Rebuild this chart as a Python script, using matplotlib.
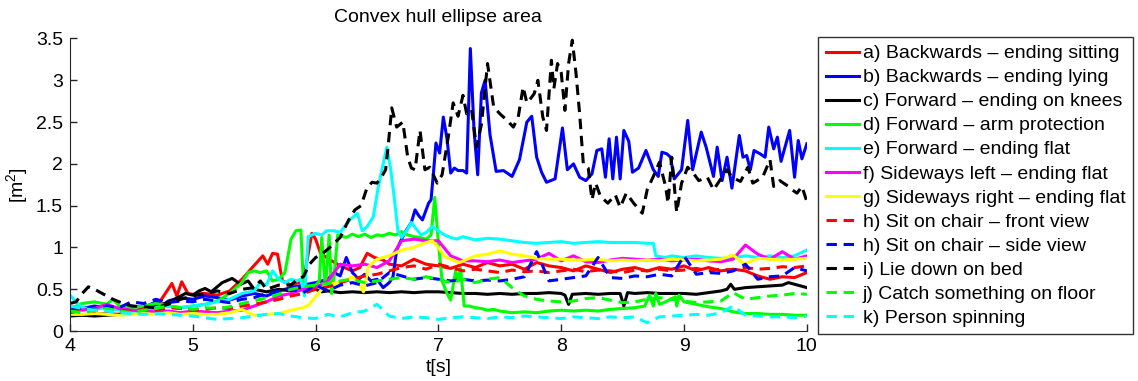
import numpy as np
import matplotlib
matplotlib.use('Agg')
import matplotlib.pyplot as plt

plt.rcParams['font.family'] = ['Liberation Sans', 'DejaVu Sans']
plt.rcParams['mathtext.fontset'] = 'custom'
plt.rcParams['mathtext.rm'] = 'Liberation Sans'
plt.rcParams['mathtext.default'] = 'regular'

# time grid (s) used by the smoother series
t_base = np.round(np.arange(4.0, 10.001, 0.1), 2)

labels = ['a) Backwards \u2013 ending sitting',
          'b) Backwards \u2013 ending lying',
          'c) Forward \u2013 ending on knees',
          'd) Forward \u2013 arm protection',
          'e) Forward \u2013 ending flat',
          'f) Sideways left \u2013 ending flat',
          'g) Sideways right \u2013 ending flat',
          'h) Sit on chair \u2013 front view',
          'h) Sit on chair \u2013 side view',
          'i) Lie down on bed',
          'j) Catch something on floor',
          'k) Person spinning']

# a) red solid
t_a = [4.0, 4.1, 4.2, 4.3, 4.4, 4.5, 4.6, 4.7, 4.83, 4.87, 4.91, 4.96, 5.0, 5.1, 5.2, 5.3, 5.4,
       5.49, 5.57, 5.61, 5.65, 5.69, 5.73, 5.8, 5.9, 5.97, 6.0, 6.04, 6.12, 6.2, 6.3, 6.36, 6.42,
       6.48, 6.55, 6.6, 6.7, 6.8, 6.9, 7.0, 7.1, 7.2, 7.3, 7.4, 7.5, 7.6, 7.7, 7.8, 7.9, 8.0, 8.1,
       8.2, 8.3, 8.4, 8.5, 8.6, 8.7, 8.8, 8.9, 9.0, 9.1, 9.2, 9.3, 9.4, 9.5, 9.6, 9.7, 9.8, 9.9, 10.0]
y_a = [0.20, 0.19, 0.20, 0.21, 0.20, 0.22, 0.24, 0.28, 0.57, 0.42, 0.59, 0.45, 0.44, 0.45, 0.43, 0.48, 0.62,
       0.77, 0.90, 0.80, 0.93, 0.92, 0.60, 0.55, 0.60, 1.17, 1.10, 0.93, 0.85, 0.78, 0.72, 0.76, 0.93,
       0.88, 0.85, 0.80, 0.78, 0.86, 0.80, 0.78, 0.75, 0.80, 0.76, 0.82, 0.78, 0.80, 0.74, 0.82, 0.78, 0.76, 0.72,
       0.78, 0.74, 0.70, 0.74, 0.76, 0.72, 0.76, 0.74, 0.78, 0.72, 0.76, 0.72, 0.74, 0.72, 0.66, 0.62, 0.65, 0.64, 0.70]

# b) blue solid
t_b = [4.0, 4.1, 4.2, 4.3, 4.4, 4.5, 4.6, 4.7, 4.75, 4.8, 4.9, 5.0, 5.1, 5.2, 5.3, 5.4, 5.5, 5.6, 5.7,
       5.8, 5.9, 6.0, 6.1, 6.15, 6.2, 6.25, 6.3, 6.35, 6.4, 6.45, 6.5, 6.55, 6.6, 6.63, 6.66, 6.7, 6.74,
       6.78, 6.81, 6.84, 6.87, 6.9, 6.92, 6.94, 6.96, 6.98, 7.01, 7.04, 7.07, 7.1, 7.13, 7.16, 7.2, 7.23,
       7.26, 7.29, 7.32, 7.35, 7.38, 7.42, 7.47, 7.53, 7.6, 7.66, 7.72, 7.76, 7.8, 7.84, 7.88, 7.95, 8.01,
       8.05, 8.1, 8.15, 8.2, 8.25, 8.29, 8.33, 8.36, 8.39, 8.42, 8.45, 8.48, 8.51, 8.55, 8.58, 8.63, 8.69,
       8.75, 8.79, 8.82, 8.86, 8.89, 8.92, 8.98, 9.03, 9.07, 9.14, 9.18, 9.24, 9.27, 9.31, 9.35, 9.39,
       9.45, 9.48, 9.51, 9.54, 9.57, 9.62, 9.66, 9.69, 9.73, 9.76, 9.79, 9.86, 9.9, 9.93, 9.96, 10.0]
y_b = [0.25, 0.27, 0.30, 0.28, 0.26, 0.30, 0.28, 0.35, 0.30, 0.36, 0.40, 0.38, 0.42, 0.40, 0.37, 0.42, 0.45, 0.42, 0.48,
       0.52, 0.55, 0.58, 0.62, 0.70, 0.66, 0.88, 0.70, 0.62, 0.68, 0.60, 0.62, 0.52, 0.58, 0.65, 0.97, 1.10, 1.21,
       1.30, 1.45, 1.38, 1.33, 1.45, 1.53, 1.57, 1.90, 2.25, 2.13, 2.56, 2.30, 1.89, 1.95, 1.92, 1.92, 1.89,
       3.38, 2.40, 1.87, 2.85, 3.00, 2.35, 1.91, 1.92, 1.85, 2.05, 2.50, 2.57, 2.08, 1.90, 1.78, 1.82, 2.43,
       1.93, 2.00, 1.84, 1.80, 1.88, 2.16, 2.18, 1.84, 2.30, 1.82, 2.32, 1.82, 2.40, 2.27, 1.90, 1.95, 2.16,
       1.93, 1.85, 2.14, 2.12, 2.08, 1.82, 1.93, 2.52, 1.93, 2.38, 2.20, 1.85, 2.20, 1.80, 2.08, 1.71,
       2.34, 2.08, 2.10, 1.93, 2.16, 2.12, 2.08, 2.44, 2.18, 2.32, 2.03, 2.40, 1.84, 2.28, 2.06, 2.24]

# c) black solid
t_c = [4.0, 4.1, 4.2, 4.3, 4.4, 4.5, 4.6, 4.7, 4.77, 4.85, 4.94, 5.0, 5.05, 5.1, 5.15, 5.24, 5.32, 5.39,
       5.45, 5.5, 5.6, 5.7, 5.8, 5.9, 6.0, 6.05, 6.1, 6.2, 6.3, 6.4, 6.5, 6.6, 6.7, 6.8, 6.9, 7.0, 7.1,
       7.2, 7.3, 7.4, 7.5, 7.6, 7.7, 7.8, 7.9, 8.0, 8.03, 8.06, 8.09, 8.2, 8.3, 8.4, 8.48, 8.51, 8.54,
       8.6, 8.7, 8.8, 8.9, 9.0, 9.1, 9.2, 9.3, 9.35, 9.38, 9.41, 9.5, 9.6, 9.7, 9.8, 9.85, 9.9, 10.0]
y_c = [0.18, 0.19, 0.18, 0.19, 0.20, 0.21, 0.25, 0.30, 0.33, 0.38, 0.45, 0.43, 0.48, 0.51, 0.47, 0.58, 0.63, 0.56,
       0.60, 0.50, 0.47, 0.50, 0.48, 0.52, 0.50, 0.47, 0.48, 0.46, 0.47, 0.46, 0.47, 0.46, 0.47, 0.46, 0.47, 0.47, 0.46,
       0.45, 0.45, 0.44, 0.45, 0.44, 0.45, 0.45, 0.46, 0.45, 0.43, 0.32, 0.44, 0.45, 0.44, 0.45, 0.45, 0.30, 0.46,
       0.45, 0.46, 0.45, 0.45, 0.45, 0.44, 0.46, 0.48, 0.50, 0.56, 0.50, 0.52, 0.53, 0.54, 0.55, 0.58, 0.56, 0.52]

# d) green solid
t_d = [4.0, 4.1, 4.2, 4.3, 4.35, 4.4, 4.5, 4.6, 4.7, 4.8, 4.9, 5.0, 5.1, 5.2, 5.3, 5.4, 5.45, 5.5, 5.55,
       5.6, 5.65, 5.7, 5.75, 5.8, 5.84, 5.88, 5.9, 5.95, 6.0, 6.03, 6.05, 6.08, 6.11, 6.13, 6.15, 6.18,
       6.25, 6.3, 6.35, 6.4, 6.45, 6.5, 6.55, 6.6, 6.65, 6.7, 6.75, 6.8, 6.85, 6.9, 6.94, 6.97, 7.0,
       7.03, 7.07, 7.1, 7.14, 7.16, 7.18, 7.21, 7.25, 7.3, 7.35, 7.4, 7.45, 7.5, 7.6, 7.7, 7.8, 7.9,
       8.0, 8.1, 8.2, 8.3, 8.4, 8.5, 8.6, 8.68, 8.72, 8.75, 8.77, 8.8, 8.85, 8.93, 8.94, 8.96, 9.0,
       9.1, 9.2, 9.3, 9.4, 9.5, 9.6, 9.7, 9.8, 9.9, 10.0]
y_d = [0.27, 0.33, 0.35, 0.32, 0.38, 0.30, 0.28, 0.30, 0.33, 0.30, 0.28, 0.30, 0.32, 0.36, 0.45, 0.58, 0.70, 0.72, 0.70,
       0.72, 0.60, 0.62, 0.70, 1.10, 1.20, 1.21, 0.58, 0.50, 0.55, 0.60, 1.12, 0.50, 1.15, 0.45, 0.65, 1.15,
       1.12, 1.16, 1.13, 1.16, 1.12, 1.15, 1.14, 1.17, 1.15, 1.19, 1.15, 1.13, 1.12, 1.10, 1.15, 1.60, 1.05,
       0.60, 0.45, 0.37, 0.72, 0.60, 0.75, 0.30, 0.30, 0.28, 0.27, 0.25, 0.26, 0.24, 0.22, 0.23, 0.22, 0.24,
       0.25, 0.24, 0.25, 0.24, 0.26, 0.27, 0.28, 0.30, 0.43, 0.30, 0.45, 0.32, 0.35, 0.41, 0.30, 0.43, 0.35,
       0.32, 0.29, 0.27, 0.23, 0.21, 0.21, 0.20, 0.20, 0.19, 0.19]

# e) cyan solid
t_e = [4.0, 4.05, 4.1, 4.2, 4.3, 4.4, 4.5, 4.6, 4.7, 4.8, 4.9, 5.0, 5.1, 5.2, 5.3, 5.4, 5.5, 5.55, 5.6,
       5.65, 5.7, 5.75, 5.8, 5.85, 5.88, 5.91, 5.94, 6.0, 6.05, 6.09, 6.15, 6.2, 6.25, 6.28, 6.34, 6.38,
       6.42, 6.47, 6.51, 6.55, 6.58, 6.61, 6.64, 6.67, 6.7, 6.74, 6.78, 6.82, 6.86, 6.9, 6.95, 7.0, 7.05,
       7.1, 7.15, 7.2, 7.3, 7.4, 7.5, 7.6, 7.7, 7.8, 7.9, 8.0, 8.1, 8.2, 8.3, 8.4, 8.5, 8.6, 8.7, 8.75,
       8.77, 8.85, 8.9, 9.0, 9.1, 9.2, 9.3, 9.4, 9.5, 9.6, 9.7, 9.8, 9.9, 10.0]
y_e = [0.43, 0.35, 0.28, 0.26, 0.28, 0.25, 0.22, 0.26, 0.28, 0.30, 0.28, 0.30, 0.32, 0.35, 0.38, 0.45, 0.48, 0.58, 0.55,
       0.72, 0.62, 0.58, 0.62, 0.60, 0.62, 0.42, 1.13, 1.17, 1.15, 1.20, 1.20, 1.18, 1.28, 1.33, 1.41, 1.20,
       1.25, 1.37, 1.72, 2.00, 2.20, 1.95, 1.60, 1.20, 1.12, 1.20, 1.30, 1.22, 1.15, 1.18, 1.25, 1.20, 1.15,
       1.12, 1.10, 1.13, 1.09, 1.11, 1.10, 1.08, 1.06, 1.05, 1.06, 1.07, 1.05, 1.06, 1.07, 1.06, 1.06, 1.06, 1.05, 1.05,
       0.90, 0.88, 0.90, 0.88, 0.90, 0.88, 0.87, 0.88, 0.90, 0.88, 0.90, 0.88, 0.90, 0.97]

# f) magenta solid
y_f = [0.28, 0.25, 0.27, 0.32, 0.27, 0.25, 0.24, 0.23, 0.24, 0.22, 0.24, 0.23, 0.22, 0.24, 0.25, 0.30,
       0.35, 0.42, 0.45, 0.50, 0.52, 0.60, 0.80, 0.78, 0.80, 0.76, 0.84, 1.08, 1.10, 1.08, 1.08, 0.90,
       0.84, 0.84, 0.83, 0.85, 0.82, 0.84, 0.86, 0.93, 0.84, 0.90, 0.83, 0.82, 0.85, 0.87, 0.86, 0.85,
       0.86, 0.84, 0.85, 0.86, 0.84, 0.83, 0.86, 1.03, 0.92, 0.86, 0.95, 0.86, 0.90]

# g) yellow solid
t_g = [4.0, 4.1, 4.2, 4.3, 4.4, 4.5, 4.6, 4.7, 4.8, 4.9, 5.0, 5.1, 5.2, 5.3, 5.4, 5.45, 5.5, 5.6, 5.7,
       5.8, 5.9, 5.95, 6.0, 6.05, 6.1, 6.2, 6.3, 6.35, 6.39, 6.43, 6.5, 6.6, 6.7, 6.8, 6.88, 6.95, 7.0,
       7.05, 7.1, 7.17, 7.3, 7.4, 7.5, 7.6, 7.7, 7.8, 7.9, 8.0, 8.1, 8.2, 8.3, 8.4, 8.5, 8.6, 8.7, 8.8,
       8.9, 9.0, 9.1, 9.2, 9.3, 9.4, 9.49, 9.6, 9.7, 9.8, 9.9, 10.0]
y_g = [0.20, 0.20, 0.21, 0.20, 0.19, 0.20, 0.21, 0.20, 0.22, 0.20, 0.21, 0.20, 0.20, 0.22, 0.26, 0.22, 0.19, 0.20, 0.21,
       0.25, 0.28, 0.32, 0.41, 0.50, 0.56, 0.58, 0.65, 0.58, 0.47, 0.77, 0.86, 0.90, 0.97, 1.00, 1.05, 1.08, 1.00,
       0.89, 0.86, 0.82, 0.90, 0.92, 0.96, 0.92, 0.90, 0.87, 0.86, 0.86, 0.85, 0.85, 0.86, 0.84, 0.85, 0.84, 0.85, 0.84,
       0.86, 0.85, 0.84, 0.85, 0.86, 0.91, 0.80, 0.87, 0.86, 0.85, 0.86, 0.87]

# h) red dashed
y_h1 = [0.22, 0.25, 0.24, 0.27, 0.25, 0.24, 0.26, 0.25, 0.28, 0.27, 0.25, 0.26, 0.28, 0.27, 0.30, 0.32,
        0.35, 0.38, 0.42, 0.45, 0.50, 0.53, 0.58, 0.62, 0.66, 0.68, 0.72, 0.76, 0.78, 0.74, 0.80, 0.76,
        0.72, 0.74, 0.72, 0.70, 0.73, 0.71, 0.72, 0.70, 0.72, 0.74, 0.71, 0.73, 0.72, 0.70, 0.73, 0.72,
        0.74, 0.72, 0.73, 0.75, 0.72, 0.74, 0.73, 0.76, 0.74, 0.75, 0.77, 0.76, 0.78]

# h) blue dashed
y_h2 = [0.25, 0.28, 0.26, 0.30, 0.28, 0.35, 0.33, 0.38, 0.34, 0.36, 0.35, 0.38, 0.36, 0.34, 0.38, 0.40,
        0.45, 0.48, 0.50, 0.46, 0.55, 0.48, 0.55, 0.58, 0.54, 0.58, 0.70, 0.66, 0.62, 0.64, 0.62, 0.60,
        0.62, 0.60, 0.61, 0.60, 0.62, 0.65, 0.95, 0.60, 0.62, 0.64, 0.66, 0.88, 0.64, 0.63, 0.66, 0.65,
        0.68, 0.66, 0.90, 0.68, 0.70, 0.69, 0.72, 0.80, 0.62, 0.65, 0.66, 0.76, 0.72]

# i) black dashed
t_i = [4.0, 4.05, 4.1, 4.15, 4.2, 4.25, 4.3, 4.35, 4.4, 4.5, 4.6, 4.7, 4.8, 4.9, 5.0, 5.1, 5.2, 5.3, 5.4,
       5.5, 5.55, 5.6, 5.7, 5.8, 5.85, 5.9, 5.95, 6.0, 6.05, 6.1, 6.15, 6.2, 6.27, 6.32, 6.37, 6.42, 6.46,
       6.5, 6.54, 6.57, 6.59, 6.62, 6.66, 6.71, 6.75, 6.78, 6.81, 6.85, 6.89, 6.93, 6.99, 7.03, 7.08, 7.12,
       7.16, 7.2, 7.23, 7.27, 7.31, 7.35, 7.4, 7.45, 7.5, 7.56, 7.61, 7.65, 7.69, 7.72, 7.75, 7.78, 7.81,
       7.85, 7.88, 7.92, 7.94, 7.97, 8.0, 8.03, 8.06, 8.09, 8.12, 8.15, 8.18, 8.22, 8.25, 8.28, 8.32, 8.38,
       8.44, 8.48, 8.53, 8.59, 8.66, 8.7, 8.75, 8.8, 8.85, 8.87, 8.9, 8.94, 8.98, 9.03, 9.08, 9.12, 9.19,
       9.24, 9.29, 9.35, 9.39, 9.46, 9.52, 9.56, 9.64, 9.7, 9.73, 9.78, 9.85, 9.88, 9.92, 9.96, 10.0]
y_i = [0.33, 0.35, 0.45, 0.53, 0.50, 0.46, 0.42, 0.38, 0.35, 0.30, 0.29, 0.28, 0.32, 0.38, 0.42, 0.45, 0.48, 0.45, 0.50,
       0.52, 0.60, 0.50, 0.55, 0.55, 0.62, 0.65, 0.80, 0.88, 0.92, 0.98, 1.05, 1.12, 1.33, 1.45, 1.50, 1.72, 1.78,
       1.77, 1.85, 1.93, 2.20, 2.67, 2.44, 2.50, 2.08, 1.95, 1.93, 2.40, 1.93, 1.96, 1.77, 1.87, 2.32, 2.73,
       2.57, 2.82, 2.60, 2.65, 2.20, 2.47, 3.20, 2.68, 2.60, 2.52, 2.44, 2.56, 2.92, 2.73, 2.78, 2.84, 3.00,
       2.56, 2.40, 3.24, 2.90, 3.20, 3.09, 2.64, 3.20, 3.48, 3.09, 2.60, 2.00, 1.95, 1.57, 1.77, 1.61, 1.53,
       1.63, 1.48, 1.65, 1.53, 1.41, 1.69, 1.85, 2.02, 1.73, 1.53, 2.08, 1.42, 1.77, 1.96, 1.88, 1.80, 1.84,
       1.69, 1.80, 1.93, 1.84, 1.79, 1.96, 1.77, 1.84, 2.05, 1.73, 1.80, 1.73, 1.69, 1.65, 1.73, 1.55]

# j) green dashed
y_j = [0.24, 0.22, 0.25, 0.27, 0.24, 0.22, 0.25, 0.27, 0.30, 0.28, 0.26, 0.28, 0.27, 0.29, 0.33, 0.36,
       0.40, 0.44, 0.50, 0.53, 0.55, 0.57, 0.60, 0.62, 0.58, 0.60, 0.62, 0.64, 0.62, 0.65, 0.62, 0.58,
       0.62, 0.58, 0.62, 0.64, 0.52, 0.42, 0.38, 0.36, 0.35, 0.36, 0.39, 0.40, 0.37, 0.34, 0.35, 0.38,
       0.40, 0.38, 0.36, 0.34, 0.35, 0.36, 0.46, 0.38, 0.40, 0.42, 0.43, 0.45, 0.44]

# k) cyan dashed
y_k = [0.30, 0.27, 0.25, 0.24, 0.22, 0.21, 0.20, 0.21, 0.20, 0.19, 0.18, 0.16, 0.14, 0.15, 0.16, 0.18,
       0.20, 0.21, 0.18, 0.16, 0.15, 0.20, 0.17, 0.22, 0.24, 0.32, 0.18, 0.15, 0.17, 0.16, 0.14, 0.16,
       0.17, 0.16, 0.15, 0.17, 0.16, 0.18, 0.17, 0.16, 0.15, 0.17, 0.16, 0.15, 0.17, 0.16, 0.17, 0.10,
       0.17, 0.18, 0.19, 0.20, 0.19, 0.22, 0.30, 0.19, 0.18, 0.17, 0.17, 0.16, 0.18]

series = [(t_a, y_a, '#ff0000', '-'), (t_b, y_b, '#0000ff', '-'), (t_c, y_c, '#000000', '-'),
          (t_d, y_d, '#00ff00', '-'), (t_e, y_e, '#00ffff', '-'), (t_base, y_f, '#ff00ff', '-'),
          (t_g, y_g, '#ffff00', '-'), (t_base, y_h1, '#ff0000', '--'), (t_base, y_h2, '#0000ff', '--'),
          (t_i, y_i, '#000000', '--'), (t_base, y_j, '#00ff00', '--'), (t_base, y_k, '#00ffff', '--')]

fig = plt.figure(figsize=(11.38, 3.81), dpi=100)
ax = fig.add_axes([0.0615, 0.131, 0.6475, 0.768])
for (tt, yy, col, ls), lab in zip(series, labels):
    ln, = ax.plot(tt, yy, color=col, linestyle=ls, linewidth=2.2, label=lab)
    if ls == '--':
        ln.set_dashes((3.4, 2.2))

ax.set_xlim(4, 10)
ax.set_ylim(0, 3.5)
ax.set_xticks([4, 5, 6, 7, 8, 9, 10])
ax.set_yticks([0, 0.5, 1, 1.5, 2, 2.5, 3, 3.5])
ax.set_yticklabels(['0', '0.5', '1', '1.5', '2', '2.5', '3', '3.5'])
ax.spines['top'].set_visible(False)
ax.spines['right'].set_visible(False)
for s in ['left', 'bottom']:
    ax.spines[s].set_color('#262626')
ax.tick_params(direction='in', length=5, width=1, labelsize=14, colors='#262626', pad=5)
ax.tick_params(axis='both', labelcolor='black')
ax.set_title('Convex hull ellipse area', fontsize=14, pad=12)
ax.set_xlabel('t[s]', fontsize=14, labelpad=3)
ax.set_ylabel('[m$^2$]', fontsize=14, labelpad=4)

leg = fig.legend(loc='upper left', bbox_to_anchor=(818 / 1138, 1 - 37 / 381), fontsize=14,
                 frameon=True, fancybox=False, edgecolor='black', handlelength=1.7,
                 handletextpad=0.2, labelspacing=0.33, borderpad=0.4, borderaxespad=0)
leg.get_frame().set_linewidth(1.0)

fig.savefig('out.png', dpi=100)
